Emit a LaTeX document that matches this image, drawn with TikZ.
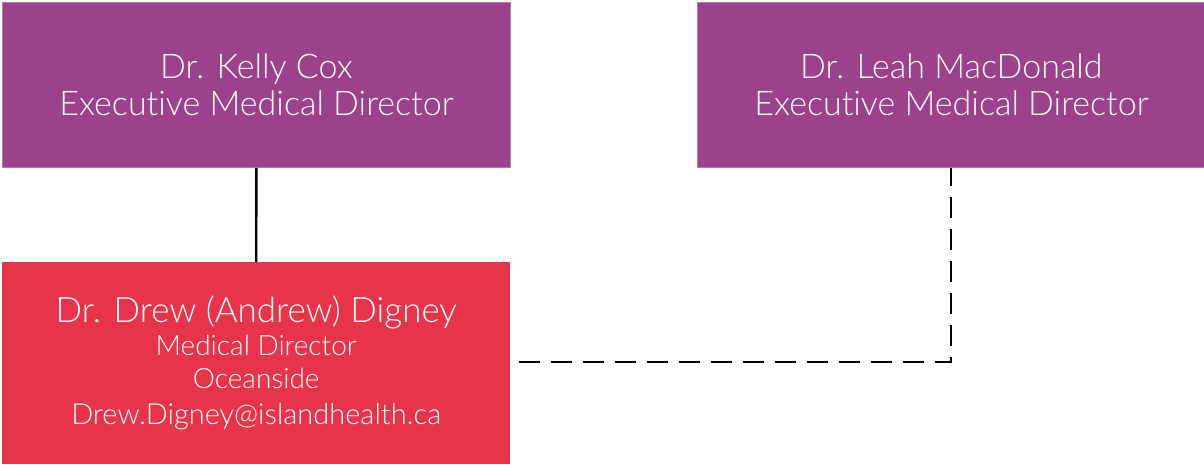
\documentclass[tikz,border=0pt]{standalone}
\usepackage{fontspec}
\setmainfont[Ligatures=NoCommon]{Lato Light}
\definecolor{purp}{HTML}{9C418C}
\definecolor{purpedge}{HTML}{B77AAD}
\definecolor{redbox}{HTML}{E8344B}
\begin{document}
\begin{tikzpicture}[x=1pt,y=-1pt,
  exec/.style={fill=purp,draw=purpedge,line width=0.8pt,minimum width=508pt,minimum height=165pt,anchor=north west,inner sep=0pt,text=white,align=center,font=\fontsize{34}{37}\selectfont},
  md/.style={fill=redbox,draw=none,minimum width=508pt,minimum height=202pt,anchor=north west,inner sep=0pt,text=white,align=center,font=\fontsize{28}{33}\selectfont},
  conn/.style={line width=2.4pt,black},
  dashconn/.style={line width=2.6pt,black,dash pattern=on 21pt off 11pt}]
\useasboundingbox (0,0) rectangle (1204,464);
\node[exec] (kc) at (2,2) {Dr. Kelly Cox\\Executive Medical Director};
\node[exec] (lm) at (697,2) {Dr. Leah MacDonald\\Executive Medical Director};
\node[md] (dd) at (2,262) {{\fontsize{35}{35}\selectfont Dr. Drew (Andrew) Digney}\\
  Medical Director\\
  Oceanside\\[3pt]
  {\fontsize{29}{33}\selectfont Drew.Digney@islandhealth.ca}};
\coordinate (dstart) at (519,362);
\coordinate (corner) at (951,362);
\draw[conn] (kc.south) -- (dd.north);
\draw[dashconn] (dstart) -- (corner) -- (corner |- lm.south);
\end{tikzpicture}
\end{document}
